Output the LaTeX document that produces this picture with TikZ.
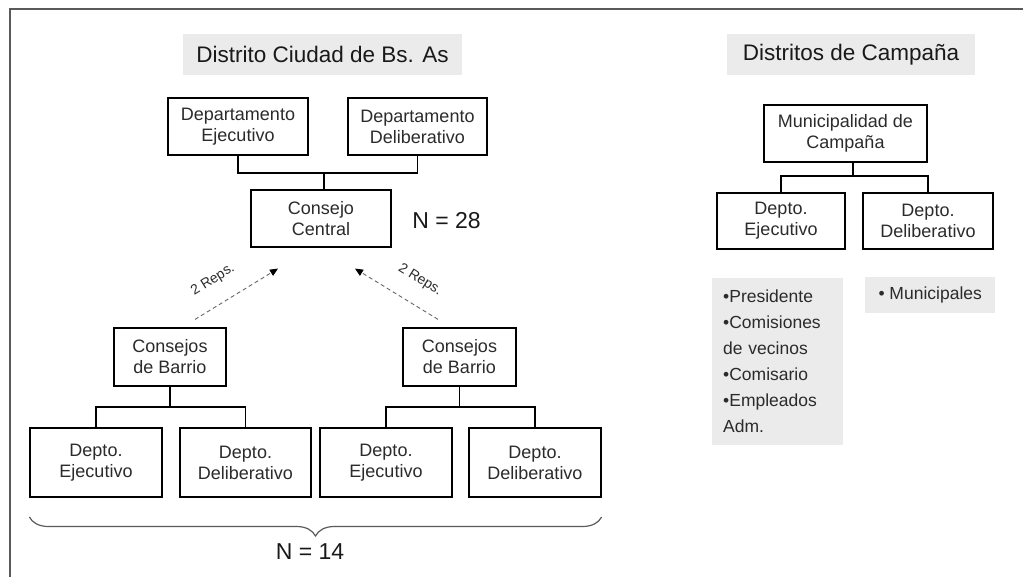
\documentclass[tikz,border=0pt]{standalone}
\usepackage{fontspec}
\setmainfont{Liberation Sans}
\usetikzlibrary{arrows.meta,decorations.pathreplacing}
\definecolor{ink}{HTML}{2B2B2B}
\definecolor{panel}{HTML}{EBEBEB}
\definecolor{framegray}{HTML}{5A5A5A}
\begin{document}
\begin{tikzpicture}[x=1pt,y=-1pt,
  unitbox/.style={draw=black, line width=1.2pt, fill=white, inner sep=0pt,
    align=center, text=ink, font=\fontsize{18}{21}\selectfont},
  titlebox/.style={fill=panel, inner sep=0pt, text=black!90,
    font=\fontsize{22.5}{26}\selectfont},
  bignum/.style={text=black!90, font=\fontsize{23}{26}\selectfont},
  link/.style={draw=black, line width=1.2pt},
  reparrow/.style={draw=gray!80!black, line width=0.9pt, dash pattern=on 4pt off 3pt,
    -{Triangle[length=8pt,width=7pt,color=black]}},
  replabel/.style={text=ink, font=\fontsize{14}{16}\selectfont},
  listbox/.style={fill=panel, text=ink, font=\fontsize{17.5}{26}\selectfont}
]
\useasboundingbox (0,0) rectangle (1023,577);

% page frame
\draw[framegray, line width=2pt] (1023,9) -- (10,9) -- (10,577);

% headings
\node[titlebox, minimum width=279pt, minimum height=41pt] (t1) at (322.5,54.5) {Distrito Ciudad de Bs. As};
\node[titlebox, minimum width=248pt, minimum height=41pt] (t2) at (851,54.5) {Distritos de Campaña};

% city district
\node[unitbox, minimum width=140pt, minimum height=57pt] (de) at (238,126.5) {Departamento\\Ejecutivo};
\node[unitbox, minimum width=139pt, minimum height=57pt] (dd) at (417.5,126.5) {Departamento\\Deliberativo};
\node[unitbox, minimum width=140pt, minimum height=57pt] (cc) at (321,218.5) {Consejo\\Central};
\node[bignum] (n28) at (446.5,221) {N = 28};

\coordinate (j1) at (324,173);
\draw[link] (de.south) |- (j1) -| (dd.south);
\draw[link] (j1) -- (j1 |- cc.north);

\node[unitbox, minimum width=112pt, minimum height=58pt] (cb1) at (170,357) {Consejos\\de Barrio};
\node[unitbox, minimum width=113pt, minimum height=58pt] (cb2) at (459.5,357) {Consejos\\de Barrio};

\node[unitbox, minimum width=132pt, minimum height=69pt] (e1) at (96,462.5) {Depto.\\Ejecutivo};
\node[unitbox, minimum width=131pt, minimum height=69pt] (d1) at (245.5,462.5) {Depto.\\Deliberativo};
\node[unitbox, minimum width=132pt, minimum height=69pt] (e2) at (386,462.5) {Depto.\\Ejecutivo};
\node[unitbox, minimum width=132pt, minimum height=69pt] (d2) at (535,462.5) {Depto.\\Deliberativo};

\coordinate (j2) at (cb1.south |- 0,407);
\draw[link] (e1.north) |- (j2) -| (d1.north);
\draw[link] (cb1.south) -- (j2);
\coordinate (j3) at (cb2.south |- 0,407);
\draw[link] (e2.north) |- (j3) -| (d2.north);
\draw[link] (cb2.south) -- (j3);

% representatives sent to the central council
\draw[reparrow] ([shift={(25,-8)}]cb1.north) -- ([shift={(-43,21)}]cc.south);
\draw[reparrow] ([shift={(-21.5,-8)}]cb2.north) -- ([shift={(34,21)}]cc.south);
\node[replabel, rotate=32] (r1) at (213,280) {2 Reps.};
\node[replabel, rotate=-32] (r2) at (420,280) {2 Reps.};

% all neighbourhood councils
\draw[framegray, line width=1.2pt, decorate, decoration={brace, mirror, amplitude=19pt}]
  (e1.south west |- 0,517) -- (d2.south east |- 0,517);
\node[bignum] (n14) at (310,552) {N = 14};

% rural districts
\node[unitbox, minimum width=163pt, minimum height=57pt] (mc) at (845.5,133.5) {Municipalidad de\\Campaña};
\node[unitbox, minimum width=128pt, minimum height=56pt] (me) at (781,221) {Depto.\\Ejecutivo};
\node[unitbox, minimum width=130pt, minimum height=56pt] (md) at (928,221) {Depto.\\Deliberativo};
\coordinate (j4) at (853,176);
\draw[link] (me.north) |- (j4) -| (md.north);
\draw[link] (j4) -- (j4 |- mc.south);

\node[listbox, anchor=north west, inner xsep=11pt, inner ysep=9pt, text width=109pt,
  align=left, minimum height=167pt] (lst) at (712,278)
  {•Presidente\\•Comisiones\\de vecinos\\•Comisario\\•Empleados\\Adm.};
\node[listbox, anchor=north west, inner sep=0pt, minimum width=130pt, minimum height=36pt] (mun) at (865,277)
  {• Municipales};
\end{tikzpicture}
\end{document}
